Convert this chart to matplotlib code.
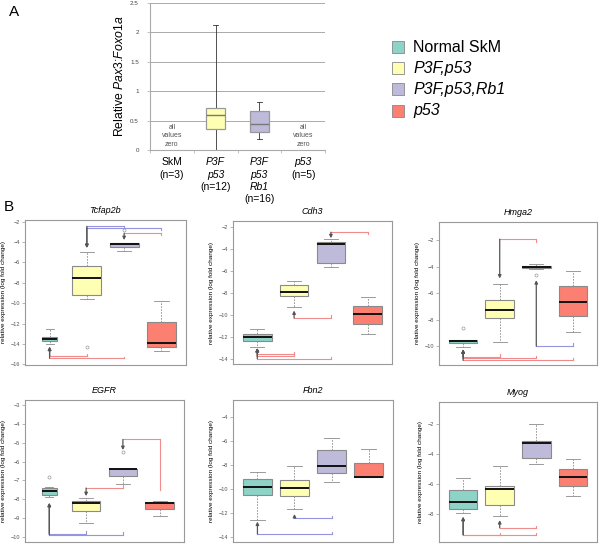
import matplotlib.pyplot as plt
from matplotlib.patches import Rectangle

plt.rcParams['font.family'] = ['Liberation Sans', 'DejaVu Sans']
plt.rcParams['mathtext.fontset'] = 'custom'
plt.rcParams['mathtext.rm'] = 'Liberation Sans'
plt.rcParams['mathtext.it'] = 'Liberation Sans:italic'

groups = ['Normal SkM', 'P3F,p53', 'P3F,p53,Rb1', 'p53']
colors = ['#8dd3c7', '#ffffb3', '#bebada', '#fb8072']

# panel A: Pax3:Foxo1a, only the two P3F groups have values
a_labels = [['SkM', '(n=3)'], ['P3F', 'p53', '(n=12)'],
            ['P3F', 'p53', 'Rb1', '(n=16)'], ['p53', '(n=5)']]
a_groups = [2, 3]
a_whislo = [0.0, 0.18]
a_q1 = [0.35, 0.31]
a_med = [0.60, 0.44]
a_q3 = [0.72, 0.67]
a_whishi = [2.13, 0.81]
a_zero = [1, 4]

# panel B: box stats per gene, groups in order of `groups`
genes = ['Tcfap2b', 'Cdh3', 'Hmga2', 'EGFR', 'Fbn2', 'Myog']
whislo = [[-14.04, -9.62, -4.88, -14.73],
          [-12.90, -9.27, -5.64, -11.73],
          [-10.05, -9.70, -4.15, -8.92],
          [-7.91, -9.29, -7.17, -8.89],
          [-12.56, -11.67, -9.36, -8.97],
          [-7.91, -8.13, -4.69, -6.77]]
q1 = [[-13.70, -9.20, -4.45, -14.33],
      [-12.33, -8.24, -5.27, -10.82],
      [-9.75, -7.91, -4.11, -7.76],
      [-7.77, -8.65, -6.77, -8.55],
      [-10.50, -10.56, -8.67, -8.97],
      [-7.67, -7.41, -4.25, -6.15]]
med = [[-13.55, -7.56, -4.19, -13.95],
       [-12.00, -7.90, -3.55, -9.90],
       [-9.65, -7.31, -4.01, -6.63],
       [-7.56, -8.23, -6.42, -8.23],
       [-9.83, -9.92, -8.03, -8.97],
       [-7.19, -6.35, -3.26, -5.55]]
q3 = [[-13.30, -6.35, -4.06, -11.85],
      [-11.73, -7.30, -3.33, -9.15],
      [-9.57, -6.55, -3.94, -5.45],
      [-7.43, -8.12, -6.42, -8.16],
      [-9.17, -9.22, -6.75, -7.83],
      [-6.37, -6.15, -3.17, -4.98]]
whishi = [[-12.57, -5.00, -4.06, -9.80],
          [-11.27, -6.85, -3.06, -8.36],
          [-9.57, -5.27, -3.76, -4.34],
          [-7.38, -7.96, -6.42, -8.09],
          [-8.58, -8.06, -5.75, -6.61],
          [-5.64, -4.80, -2.00, -4.38]]
fliers = [[[], [-14.3], [-2.8], []],
          [[], [], [], []],
          [[-8.67], [], [-4.64], []],
          [[-6.85], [], [-5.5], []],
          [[], [], [], []],
          [[], [], [], []]]
y_limits = [(-16.07, -1.83), (-14.45, -1.43), (-11.43, -0.62),
            (-10.28, -2.73), (-14.39, -2.56), (-9.85, -0.57)]
y_ticks = [range(-16, -1, 2), range(-14, -1, 2), range(-10, -1, 2),
           range(-10, -2, 1), range(-14, -3, 2), range(-8, -1, 2)]

# significance brackets: (arrow group, partner group, line y, arrow tip y, partner leg end y, colour)
brackets = [
    [(2, 3, -2.45, -4.58, -2.65, 'b'), (2, 4, -2.60, -4.58, -2.85, 'b'),
     (3, 4, -3.14, -3.80, -3.30, 'r'), (1, 2, -15.18, -14.27, -14.95, 'r'),
     (1, 3, -15.41, -14.27, -15.25, 'r')],
    [(3, 4, -2.45, -3.00, -2.64, 'r'), (2, 3, -10.27, -9.58, -10.03, 'r'),
     (1, 2, -13.55, -13.00, -13.40, 'r'), (1, 2, -13.76, -13.00, -13.60, 'r'),
     (1, 3, -13.97, -13.00, -13.80, 'r')],
    [(2, 3, -1.92, -4.89, -2.13, 'r'), (3, 4, -10.00, -5.02, -9.80, 'b'),
     (1, 2, -10.80, -10.25, -10.63, 'r'), (1, 3, -10.93, -10.25, -10.75, 'r'),
     (1, 4, -11.08, -10.25, -10.88, 'r')],
    [(3, 4, -4.83, -5.39, -7.52, 'r'), (2, 3, -7.41, -7.84, -7.26, 'r'),
     (1, 2, -9.83, -8.20, -9.68, 'b'), (1, 3, -9.90, -8.20, -9.77, 'b')],
    [(2, 3, -12.36, -12.06, -12.19, 'b'), (1, 3, -13.72, -12.69, -13.58, 'b')],
    [(2, 3, -8.91, -8.40, -8.78, 'r'), (1, 3, -9.37, -8.18, -9.24, 'r'),
     (1, 2, -9.37, -8.18, -9.28, 'r')],
]
bracket_colors = {'r': '#f08c8c', 'b': '#9494e0'}
narrow_first = ['Tcfap2b', 'EGFR']

W, H = 600, 544
fig = plt.figure(figsize=(6, 5.44), dpi=100)


def px_axes(l, t, r, b):
    return fig.add_axes([l / W, 1 - b / H, (r - l) / W, (b - t) / H])


# ---------- panel A ----------
ax = px_axes(150, 3, 325, 150)
stats = []
for i in range(len(a_groups)):
    stats.append(dict(med=a_med[i], q1=a_q1[i], q3=a_q3[i],
                      whislo=a_whislo[i], whishi=a_whishi[i], fliers=[]))
bp = ax.bxp(stats, positions=a_groups, widths=0.42, capwidths=0.12,
            patch_artist=True, showfliers=False,
            boxprops=dict(edgecolor='#999999', linewidth=0.9),
            medianprops=dict(color='#777777', linewidth=1.0),
            whiskerprops=dict(color='#333333', linewidth=0.6),
            capprops=dict(color='#333333', linewidth=0.6))
for patch, g in zip(bp['boxes'], a_groups):
    patch.set_facecolor(colors[g - 1])
    patch.set_zorder(3)
for art in bp['whiskers'] + bp['caps']:
    art.set_zorder(2)
for art in bp['medians']:
    art.set_zorder(4)
ax.set_xlim(0.5, 4.5)
ax.set_ylim(0, 2.5)
ax.set_yticks([0, 0.5, 1, 1.5, 2, 2.5])
ax.set_yticklabels(['0', '0.5', '1', '1.5', '2', '2.5'])
ax.yaxis.grid(True, color='#aaaaaa', linewidth=0.7)
ax.set_axisbelow(True)
ax.set_xticks([0.5, 1.5, 2.5, 3.5, 4.5])
ax.set_xticklabels([])
ax.tick_params(axis='x', length=2.5, width=0.5, color='#aaaaaa')
ax.tick_params(axis='y', length=2, width=0.5, color='#aaaaaa',
               labelsize=4.5, labelcolor='#444444', pad=6)
for s in ['top', 'right']:
    ax.spines[s].set_visible(False)
for s in ['left', 'bottom']:
    ax.spines[s].set_color('#aaaaaa')
    ax.spines[s].set_linewidth(0.8)
ax.set_ylabel(r'Relative $\mathit{Pax3}$:$\mathit{Foxo1a}$', fontsize=8.8, labelpad=3)
for g in a_zero:
    ax.text(g, 0.24, 'all\nvalues\nzero', ha='center', va='center',
            fontsize=5, color='#555555', linespacing=1.3)
for i, lines in enumerate(a_labels):
    for k, line in enumerate(lines):
        italic = not (line.startswith('(') or line == 'SkM')
        ax.annotate(line, xy=(i + 1, 0), xycoords=('data', 'axes fraction'),
                    xytext=(0, -(12 + 12.5 * k) * 0.72), textcoords='offset points',
                    ha='center', va='center', fontsize=7.5,
                    style='italic' if italic else 'normal', annotation_clip=False)

# legend
for i, name in enumerate(groups):
    cy = 47 + 21.2 * i
    fig.patches.append(Rectangle((392 / W, 1 - (cy + 6) / H), 12 / W, 12 / H,
                                 transform=fig.transFigure, facecolor=colors[i],
                                 edgecolor='#888888', linewidth=0.6))
    fig.text(413 / W, 1 - cy / H, name, fontsize=11.5, va='center',
             style='normal' if i == 0 else 'italic')

fig.text(9 / W, 1 - 12 / H, 'A', fontsize=11, va='center')
fig.text(4 / W, 1 - 207 / H, 'B', fontsize=11, va='center')

# ---------- panel B ----------
frames = [(25, 220, 186, 365), (233, 221, 392, 364), (439, 222, 597, 365),
          (25, 400, 184, 542), (233, 400, 393, 542), (439, 402, 597, 542)]
for j, gene in enumerate(genes):
    ax = px_axes(*frames[j])
    stats = []
    for i in range(4):
        stats.append(dict(med=med[j][i], q1=q1[j][i], q3=q3[j][i],
                          whislo=whislo[j][i], whishi=whishi[j][i],
                          fliers=fliers[j][i]))
    widths = [0.78] * 4
    if gene in narrow_first:
        widths[0] = 0.42
    bp = ax.bxp(stats, positions=[1, 2, 3, 4], widths=widths,
                capwidths=[w * 0.5 for w in widths], patch_artist=True,
                boxprops=dict(edgecolor='#8a8a8a', linewidth=0.8),
                medianprops=dict(color='#111111', linewidth=1.4),
                whiskerprops=dict(color='#8a8a8a', linewidth=0.6, linestyle=(0, (2, 1.5))),
                capprops=dict(color='#8a8a8a', linewidth=0.6),
                flierprops=dict(marker='o', markersize=2.2, markerfacecolor='none',
                                markeredgecolor='#999999', markeredgewidth=0.5))
    for patch, c in zip(bp['boxes'], colors):
        patch.set_facecolor(c)

    for tgt, prt, yl, ytip, yleg, c in brackets[j]:
        col = bracket_colors[c]
        ax.plot([tgt, prt], [yl, yl], color=col, linewidth=0.8, zorder=5)
        ax.plot([prt, prt], [yl, yleg], color=col, linewidth=0.8, zorder=5)
        ax.annotate('', xy=(tgt, ytip), xytext=(tgt, yl),
                    arrowprops=dict(arrowstyle='-|>', color='#555555', lw=0.9,
                                    mutation_scale=4.5, shrinkA=0, shrinkB=0),
                    zorder=6)

    ax.set_xlim(0.34, 4.66)
    ax.set_ylim(*y_limits[j])
    ax.set_yticks(list(y_ticks[j]))
    ax.set_xticks([])
    ax.tick_params(axis='y', length=2, width=0.5, color='#999999',
                   labelsize=4, labelcolor='#555555', pad=1.5)
    for s in ax.spines.values():
        s.set_color('#999999')
        s.set_linewidth(0.8)
    ax.set_title(gene, fontsize=6.5, style='italic', pad=5)
    ax.set_ylabel('relative expression (log fold change)', fontsize=4.6, labelpad=3)

fig.savefig('out.png', dpi=100)
